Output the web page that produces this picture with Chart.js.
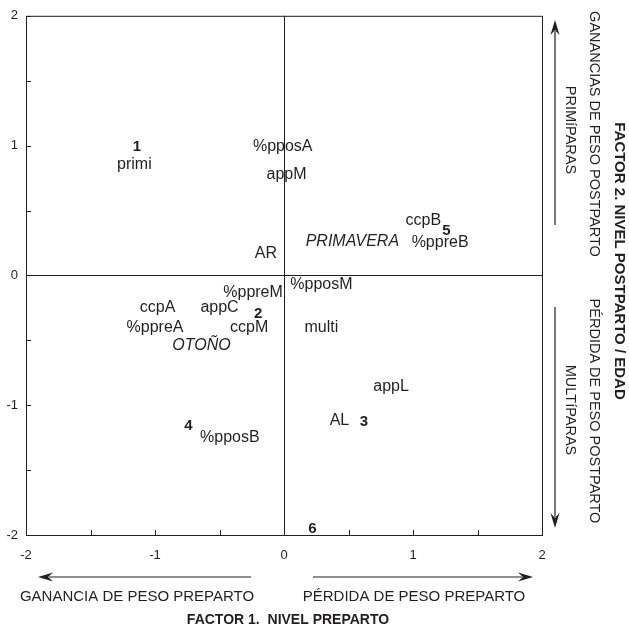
<!DOCTYPE html>
<html>
<head>
<meta charset="utf-8">
<script src="https://cdn.jsdelivr.net/npm/chart.js@4/dist/chart.umd.min.js"></script>
<style>
  html, body { margin: 0; padding: 0; background: #fff; }
  #wrap { width: 629px; height: 630px; }
</style>
</head>
<body>
<div id="wrap"><canvas id="chart"></canvas></div>
<script>
// Group centroids (bold numbers)
const groupLabels = ['1', '2', '3', '4', '5', '6'];
const groupX = [-1.14, -0.20, 0.62, -0.74, 1.26, 0.22];
const groupY = [0.99, -0.30, -1.13, -1.16, 0.34, -1.95];

// Variables
const varLabels = ['primi', '%pposA', 'appM', 'AR', 'ccpB', '%ppreB', '%pposM', '%ppreM',
    'ccpA', 'appC', '%ppreA', 'ccpM', 'multi', 'appL', 'AL', '%pposB'];
const varX = [-1.16, -0.01, 0.02, -0.14, 1.08, 1.21, 0.29, -0.24,
    -0.98, -0.50, -1.00, -0.27, 0.29, 0.83, 0.43, -0.42];
const varY = [0.85, 0.99, 0.78, 0.17, 0.42, 0.25, -0.07, -0.13,
    -0.25, -0.25, -0.40, -0.40, -0.40, -0.86, -1.12, -1.25];

// Seasons (italic)
const seasonLabels = ['PRIMAVERA', 'OTOÑO'];
const seasonX = [0.53, -0.64];
const seasonY = [0.26, -0.54];

const axisTicks = [-2, -1, 0, 1, 2];

const ink = '#231f20';
const fontFamily = '"Liberation Sans", Arial, Helvetica, sans-serif';

const toPoints = (labels, xs, ys) => labels.map((t, i) => ({ x: xs[i], y: ys[i], label: t }));

// draws the text of each point at its scaled position
const textLabels = {
    id: 'textLabels',
    afterDatasetsDraw(chart) {
        const ctx = chart.ctx;
        ctx.save();
        ctx.fillStyle = ink;
        ctx.textAlign = 'center';
        ctx.textBaseline = 'middle';
        chart.data.datasets.forEach((ds, i) => {
            const meta = chart.getDatasetMeta(i);
            ctx.font = ds.labelFont;
            meta.data.forEach((el, j) => {
                ctx.fillText(ds.data[j].label, el.x, el.y);
            });
        });
        ctx.restore();
    }
};

// line with a narrow filled head at (x2, y2)
const arrow = (ctx, x1, y1, x2, y2) => {
    const ang = Math.atan2(y2 - y1, x2 - x1);
    const cos = Math.cos(ang), sin = Math.sin(ang);
    const len = 15, half = 4.5;
    const bx = x2 - len * cos, by = y2 - len * sin;
    ctx.beginPath();
    ctx.moveTo(x1, y1);
    ctx.lineTo(bx + 4 * cos, by + 4 * sin);
    ctx.stroke();
    ctx.beginPath();
    ctx.moveTo(x2, y2);
    ctx.lineTo(bx - half * sin, by + half * cos);
    ctx.lineTo(bx + 5 * cos, by + 5 * sin);
    ctx.lineTo(bx + half * sin, by - half * cos);
    ctx.closePath();
    ctx.fill();
};

const rotText = (ctx, text, x, y, font) => {
    ctx.save();
    ctx.translate(x, y);
    ctx.rotate(Math.PI / 2);
    ctx.font = font;
    ctx.fillText(text, 0, 0);
    ctx.restore();
};

// frame, zero lines, inward ticks, arrows and annotations
const frame = {
    id: 'frame',
    beforeDatasetsDraw(chart) {
        const { ctx, chartArea: a, scales: { x, y } } = chart;
        ctx.save();
        ctx.strokeStyle = ink;
        ctx.lineWidth = 1;
        ctx.strokeRect(a.left + 0.5, a.top + 0.5, a.right - a.left, a.bottom - a.top);
        const x0 = Math.round(x.getPixelForValue(0)) + 0.5;
        const y0 = Math.round(y.getPixelForValue(0)) + 0.5;
        ctx.beginPath();
        ctx.moveTo(x0, a.top); ctx.lineTo(x0, a.bottom);
        ctx.moveTo(a.left, y0); ctx.lineTo(a.right, y0);
        ctx.stroke();
        ctx.beginPath();
        x.ticks.forEach(t => {
            const px = Math.round(x.getPixelForValue(t.value)) + 0.5;
            ctx.moveTo(px, a.bottom); ctx.lineTo(px, a.bottom - 5);
        });
        y.ticks.forEach(t => {
            const py = Math.round(y.getPixelForValue(t.value)) + 0.5;
            ctx.moveTo(a.left, py); ctx.lineTo(a.left + 5, py);
        });
        ctx.stroke();
        ctx.restore();
    },
    afterDraw(chart) {
        const ctx = chart.ctx;
        ctx.save();
        ctx.strokeStyle = ink;
        ctx.fillStyle = ink;
        ctx.lineWidth = 1.2;
        arrow(ctx, 251, 577, 38, 577);
        arrow(ctx, 313, 577, 533, 577);
        arrow(ctx, 555, 225, 555, 20);
        arrow(ctx, 555, 307, 555, 528);

        ctx.textAlign = 'center';
        ctx.textBaseline = 'middle';
        ctx.font = '15px ' + fontFamily;
        ctx.fillText('GANANCIA DE PESO PREPARTO', 137, 597);
        ctx.fillText('PÉRDIDA DE PESO PREPARTO', 414, 597);
        ctx.font = 'bold 14px ' + fontFamily;
        ctx.fillText('FACTOR 1.  NIVEL PREPARTO', 288, 620);

        rotText(ctx, 'FACTOR 2. NIVEL POSTPARTO / EDAD', 619, 261, 'bold 15px ' + fontFamily);
        rotText(ctx, 'GANANCIAS DE PESO POSTPARTO', 594, 134, '14.5px ' + fontFamily);
        rotText(ctx, 'PRIMíPARAS', 570, 130, '14.5px ' + fontFamily);
        rotText(ctx, 'PÉRDIDA DE PESO POSTPARTO', 594, 411, '14.5px ' + fontFamily);
        rotText(ctx, 'MULTíPARAS', 570, 410, '14.5px ' + fontFamily);
        ctx.restore();
    }
};

const tickLabel = v => axisTicks.includes(v) ? String(v) : '';

new Chart(document.getElementById('chart'), {
    type: 'scatter',
    data: {
        datasets: [
            { label: 'grupos', data: toPoints(groupLabels, groupX, groupY), labelFont: 'bold 15px ' + fontFamily },
            { label: 'variables', data: toPoints(varLabels, varX, varY), labelFont: '16px ' + fontFamily },
            { label: 'estaciones', data: toPoints(seasonLabels, seasonX, seasonY), labelFont: 'italic 16px ' + fontFamily }
        ]
    },
    options: {
        responsive: true,
        maintainAspectRatio: false,
        animation: false,
        layout: { padding: { top: 14, right: 87, left: 0, bottom: 0 } },
        elements: { point: { radius: 0, hoverRadius: 0 } },
        plugins: { legend: { display: false }, tooltip: { enabled: false } },
        scales: {
            x: {
                min: -2, max: 2,
                grid: { display: false, drawTicks: false },
                border: { display: false },
                ticks: {
                    stepSize: 0.5, autoSkip: false, maxRotation: 0, padding: 13,
                    color: ink, font: { family: fontFamily, size: 13 },
                    callback: tickLabel
                },
                afterFit: s => { s.height = 95; }
            },
            y: {
                min: -2, max: 2,
                grid: { display: false, drawTicks: false },
                border: { display: false },
                ticks: {
                    stepSize: 0.5, autoSkip: false, padding: 8,
                    color: ink, font: { family: fontFamily, size: 13 },
                    callback: tickLabel
                },
                afterFit: s => { s.width = 26; }
            }
        }
    },
    plugins: [frame, textLabels]
});
</script>
</body>
</html>
